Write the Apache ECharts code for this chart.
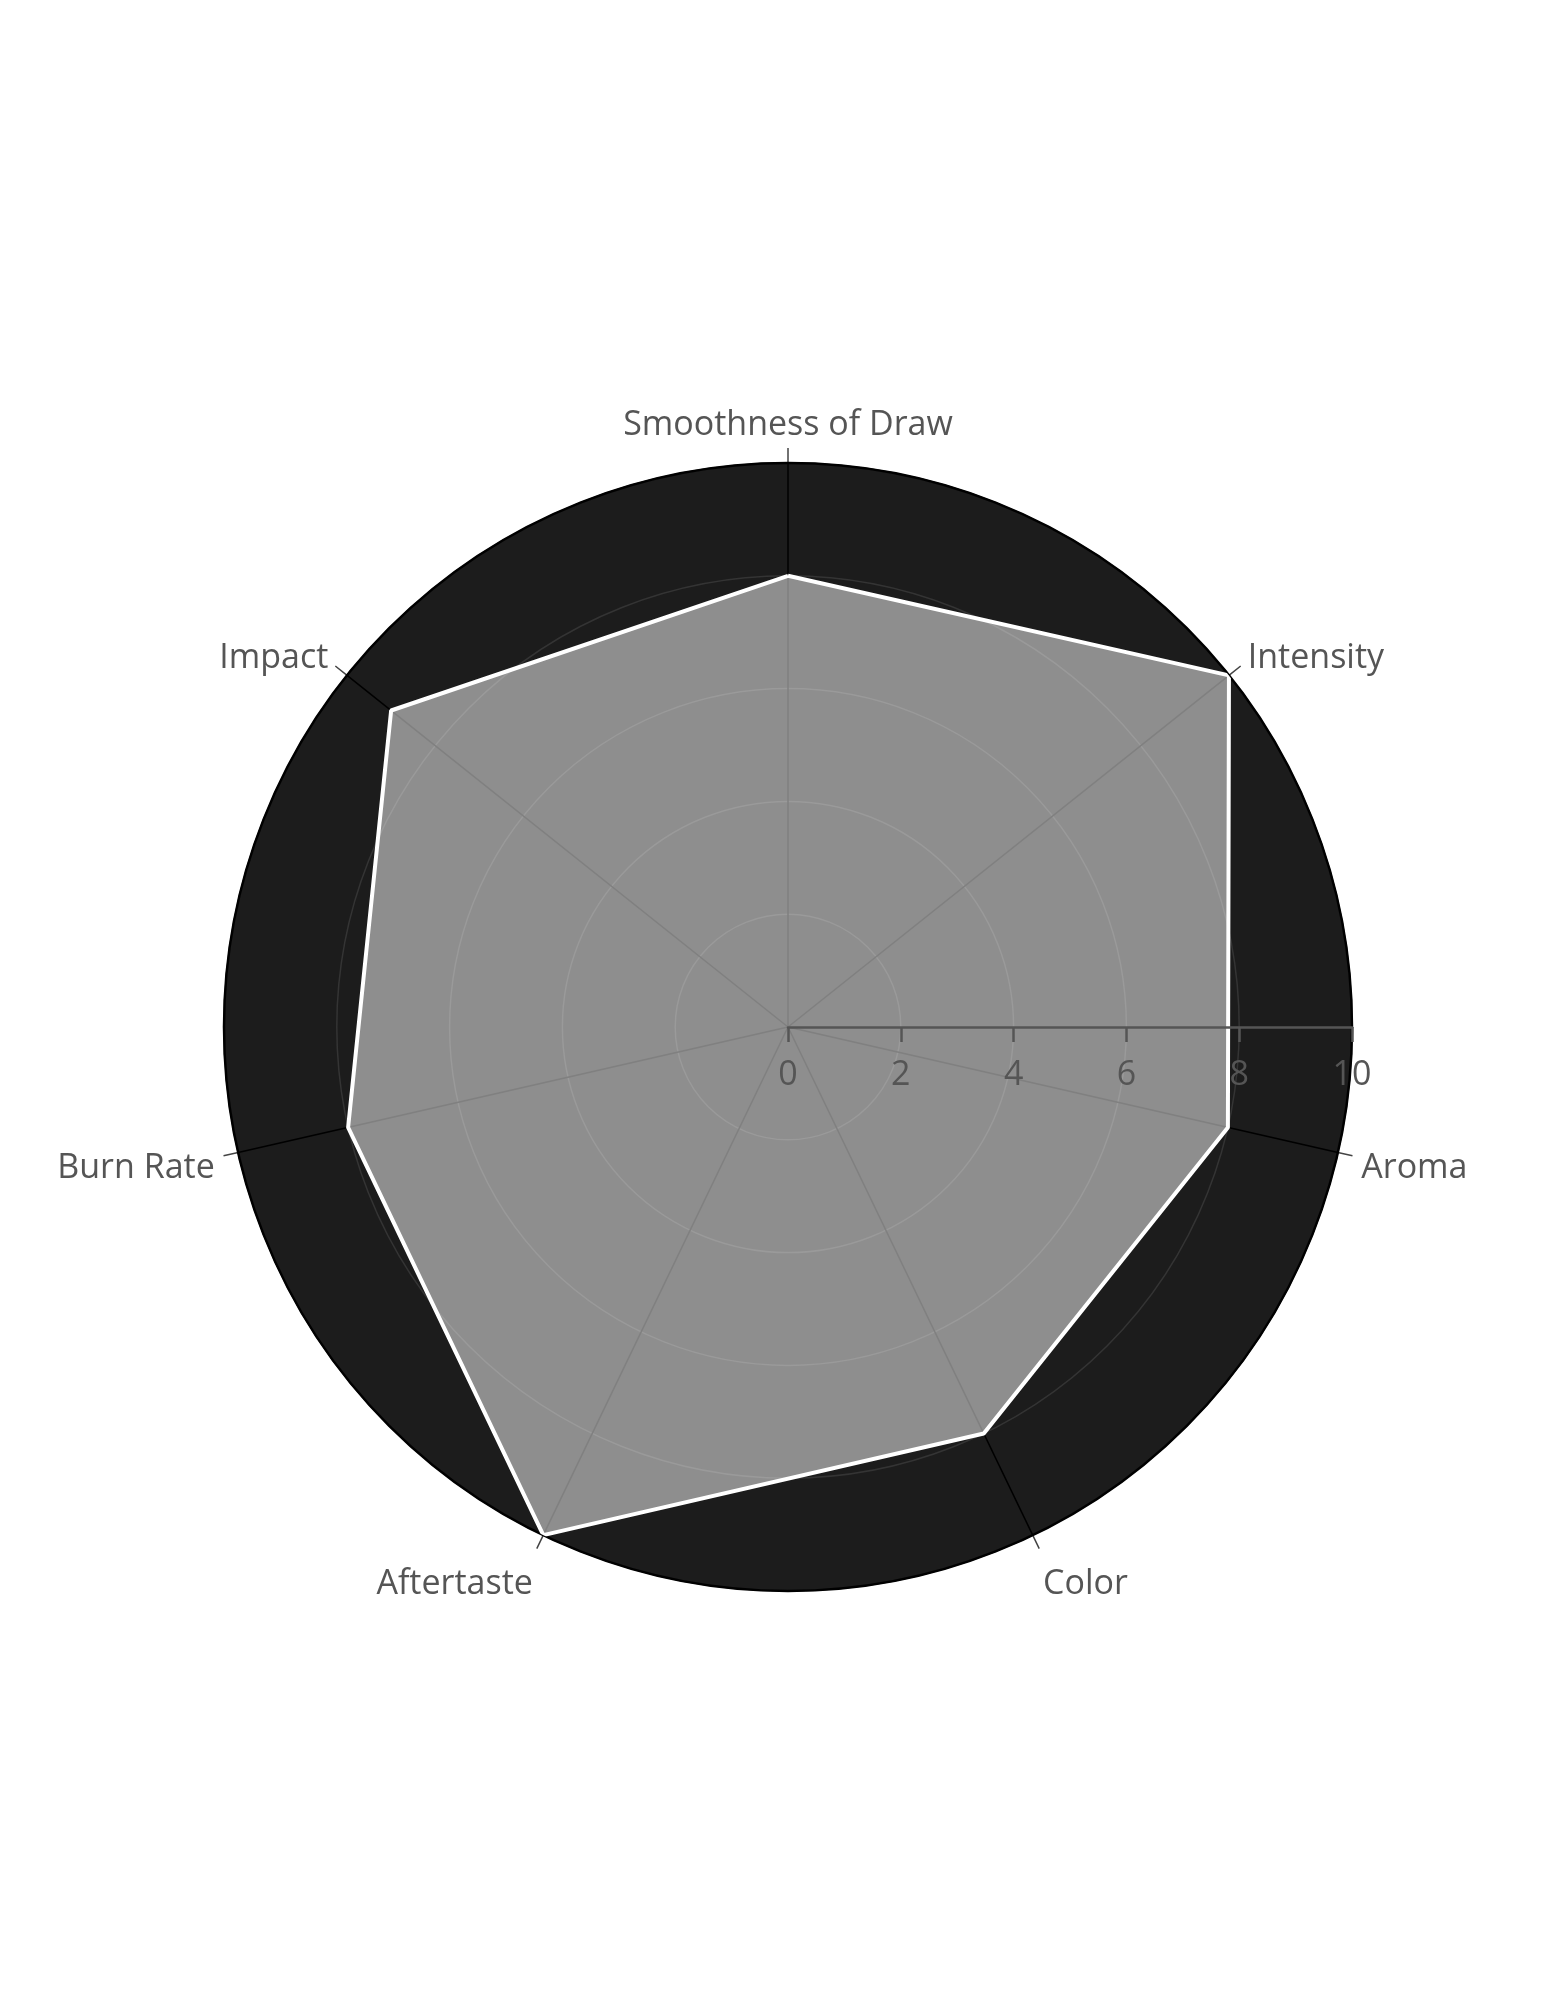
<!DOCTYPE html>
<html>
<head>
<meta charset="utf-8">
<script src="https://cdn.jsdelivr.net/npm/echarts@6/dist/echarts.min.js"></script>
<style>
  html, body { margin: 0; padding: 0; background: #ffffff; }
  #chart { width: 1545px; height: 2000px; }
</style>
</head>
<body>
<div id="chart"></div>
<script>
// ---- data ----
const categories = ['Smoothness of Draw', 'Intensity', 'Aroma', 'Color', 'Aftertaste', 'Burn Rate', 'Impact'];
const scores = [8, 10, 8, 8, 10, 8, 9];
const radialMin = 0;
const radialMax = 10;
const radialStep = 2;

// ---- build ----
const n = categories.length;
const polygon = categories.map((c, i) => [scores[i], i]);
polygon.push([scores[0], n]); // close the loop

const FONT = '"Open Sans", "Noto Sans", sans-serif';
const FS = 34;
const TXT = '#555555';
const CENTER = [788, 1027];
const RADIUS = 564;

// label style keys per category position (to nudge placement like the reference)
const labelKeys = ['top', 'upper', 'mid', 'low', 'low', 'mid', 'upper'];
const tok = (pad) => ({ color: TXT, fontSize: FS, fontFamily: FONT, padding: pad });

const chart = echarts.init(document.getElementById('chart'), null, { renderer: 'canvas' });
chart.setOption({
  backgroundColor: '#ffffff',
  animation: false,
  polar: [
    { center: CENTER, radius: RADIUS },
    { center: CENTER, radius: RADIUS }
  ],
  angleAxis: [
    {
      polarIndex: 0,
      type: 'value',
      min: 0,
      max: n,
      interval: 1,
      startAngle: 90,
      clockwise: true,
      z: 1,
      axisLine: { show: true, lineStyle: { color: '#000000', width: 2.5 } },
      axisTick: { show: true, length: 15, lineStyle: { color: '#444444', width: 1.5 } },
      axisLabel: {
        show: true,
        margin: 24,
        color: TXT,
        fontSize: FS,
        fontFamily: FONT,
        formatter: v => {
          if (!(v >= 0 && v < n)) return '';
          const i = Math.round(v);
          return '{' + labelKeys[i] + '|' + categories[i] + '}';
        },
        rich: {
          top: tok([0, 0, -3, 0]),
          upper: tok([0, 0, -15, 0]),
          mid: tok([20, 0, 0, 0]),
          low: tok([11, 0, 0, 0])
        }
      },
      splitLine: { show: true, lineStyle: { color: '#000000', width: 1.5 } }
    },
    {
      polarIndex: 1,
      type: 'value',
      min: 0,
      max: 360,
      startAngle: 0,
      z: 0,
      axisLine: { show: false },
      axisTick: { show: false },
      axisLabel: { show: false },
      splitLine: { show: false },
      splitArea: { show: true, areaStyle: { color: ['#1c1c1c'] } }
    }
  ],
  radiusAxis: [
    {
      polarIndex: 0,
      type: 'value',
      min: radialMin,
      max: radialMax,
      interval: radialStep,
      z: 1,
      axisLine: { show: false },
      axisTick: { show: false },
      axisLabel: { show: false },
      splitLine: { show: true, lineStyle: { color: '#343434', width: 1.5 } },
      splitArea: { show: false }
    },
    {
      polarIndex: 1,
      type: 'value',
      min: radialMin,
      max: radialMax,
      interval: radialStep,
      z: 5,
      axisLine: { show: true, lineStyle: { color: '#555555', width: 2.5 } },
      axisTick: { show: true, length: -15, lineStyle: { color: '#555555', width: 2.5 } },
      axisLabel: {
        show: true, margin: -31, verticalAlign: 'top', align: 'center',
        color: TXT, fontSize: FS, fontFamily: FONT
      },
      splitLine: { show: false },
      splitArea: { show: false }
    }
  ],
  series: [
    {
      type: 'line',
      coordinateSystem: 'polar',
      polarIndex: 0,
      data: polygon,
      symbol: 'none',
      smooth: false,
      z: 3,
      lineStyle: { color: '#ffffff', width: 4 },
      areaStyle: { color: 'rgba(255,255,255,0.5)', opacity: 1 }
    }
  ]
});
</script>
</body>
</html>
